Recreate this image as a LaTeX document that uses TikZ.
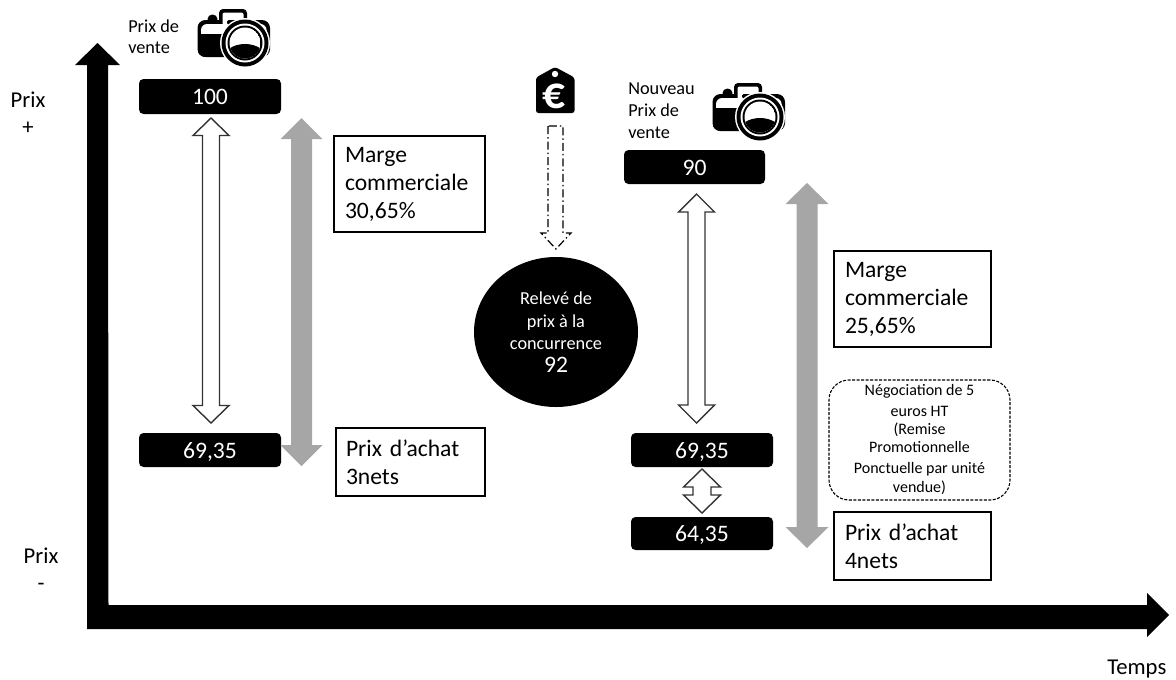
\documentclass[tikz,border=0pt]{standalone}
\usepackage{fontspec}
\setmainfont{Carlito}
\usetikzlibrary{calc,shapes.geometric}
\def\px{0.75pt}
\definecolor{grayarrow}{HTML}{A6A6A6}
\tikzset{
  bigfont/.style={font=\fontsize{17.7pt}{21pt}\selectfont},
  smallfont/.style={font=\fontsize{13.7pt}{16.5pt}\selectfont},
  axisfont/.style={font=\fontsize{17pt}{20pt}\selectfont},
  valuebox/.style={fill=black,text=white,rounded corners=4.5*\px,inner sep=0pt,minimum width=142*\px,
    bigfont,text height=12.7pt,text depth=0pt},
  notebox/.style={draw=black,line width=1.3*\px,fill=white,inner sep=0pt,align=left,bigfont},
  whitearrow/.style={draw=black!80,line width=1.4*\px,fill=white,line join=miter},
  grayblock/.style={fill=grayarrow},
  blackblock/.style={fill=black},
  dotarrow/.style={draw=black,line width=1.2*\px,dash pattern=on 8*\px off 3*\px on 1.5*\px off 3*\px},
  camera/.pic={
    \fill[black,rounded corners=8*\px] (0.5,12) rectangle (73,49);
    \fill[black,rounded corners=4*\px] (22,1) rectangle (50,20);
    \fill[black] (15.5,11) ellipse (5 and 4.5);
    \fill[white,rounded corners=6*\px] (4,16) rectangle (69.5,45.5);
    \fill[white,rounded corners=2*\px] (25.5,4.5) rectangle (46.5,18);
    \fill[black,rounded corners=1.5*\px] (30,12) rectangle (42,16.5);
    \begin{scope}
      \clip[rounded corners=8*\px] (0.5,12) rectangle (73,49);
      \fill[black] (0.5,25.5) rectangle (42,49);
    \end{scope}
    \fill[white] (48,35) circle (25);
    \fill[black] (48,35) circle (23.5);
    \fill[white] (48,35) circle (19.5);
    \fill[black] (48,35) circle (17.5);
    \begin{scope}
      \clip (48,35) circle (15.5);
      \fill[white] (48,35) circle (15.5);
      \fill[black] (48,50) ellipse (21 and 14);
    \end{scope}
  }
}
\newcommand\twoheaded[6]{%
  \path[#1] (#2) -- ($(#2)+(#5,#6)$) -- ($(#2)+(#4,#6)$) -- ($(#3)+(#4,-#6)$) -- ($(#3)+(#5,-#6)$) -- (#3)
    -- ($(#3)+(-#5,-#6)$) -- ($(#3)+(-#4,-#6)$) -- ($(#2)+(-#4,#6)$) -- ($(#2)+(-#5,#6)$) -- cycle;}
\begin{document}
\begin{tikzpicture}[x=0.75pt,y=-0.75pt]
\useasboundingbox (0,0) rectangle (1176,679);

% axes
\coordinate (ytip) at (97.5,43);
\coordinate (xtip) at (1169,615);
\coordinate (corner) at (87,629);
\path[blackblock] (ytip) -- ($(ytip)+(22.5,22)$) -- ($(ytip)+(10.5,22)$) -- ($(corner)+(21.5,-24)$)
  -- ($(xtip)+(-22,-10)$) -- ($(xtip)+(-22,-22)$) -- (xtip) -- ($(xtip)+(-22,22)$) -- ($(xtip)+(-22,14)$)
  -- (corner) -- ($(ytip)+(-10.5,22)$) -- ($(ytip)+(-22.5,22)$) -- cycle;

\node[axisfont,anchor=base,align=center] (pplus) at (28,107) {Prix};
\node[axisfont,anchor=base] (plussign) at (28,134) {+};
\node[axisfont,anchor=base] (pminus) at (41,563) {Prix};
\node[axisfont,anchor=base] (minussign) at (41,590) {-};
\node[axisfont,anchor=base west,inner sep=0pt] (temps) at (1107,674) {Temps};

% left group
\node[smallfont,anchor=base west,inner sep=0pt] (pv1) at (128,32) {Prix de};
\node[smallfont,anchor=base west,inner sep=0pt] (pv2) at (128,53.5) {vente};
\pic at (197,8) {camera};
\node[valuebox,minimum height=35*\px] (v100) at (210,96.5) {100};
\node[valuebox,minimum height=34*\px] (v69a) at (210,450) {69,35};
\coordinate (wa1t) at (211,118);
\coordinate (wa1b) at (211,423);
\twoheaded{whitearrow,draw}{wa1t}{wa1b}{8.5}{18}{17.5}
\coordinate (ga1t) at (301.5,118);
\coordinate (ga1b) at (301.5,466);
\twoheaded{grayblock}{ga1t}{ga1b}{10.5}{21}{21}
\node[notebox,minimum width=151*\px,minimum height=96*\px,text width=129*\px] (marge1) at (409.5,184)
  {Marge\\commerciale\\30,65\%};
\node[notebox,minimum width=149*\px,minimum height=68*\px,text width=129*\px] (achat1) at (410.5,462)
  {Prix d’achat\\3nets};

% centre
\path[fill=black,rounded corners=2.5*\px] (536,113) -- (536,77.5) -- (555,67) -- (574.5,77.5) -- (574.5,113) -- cycle;
\fill[white] (555,74) circle (3.2);
\node[text=white,font=\bfseries\fontsize{34pt}{35pt}\selectfont,inner sep=0pt] (euro) at (554,96) {€};
\coordinate (dat) at (556,126);
\coordinate (dab) at (556,249);
\path[dotarrow] (dat) ++(-8,0) -- ($(dab)+(-8,-16)$) -- ($(dab)+(-15,-16)$) -- (dab) -- ($(dab)+(15,-16)$) -- ($(dab)+(7,-16)$) -- ($(dat)+(7,0)$) -- cycle;
\node[ellipse,fill=black,text=white,inner sep=0pt,minimum width=164*\px,minimum height=150*\px,align=center,
  smallfont] (releve) at (556,332)
  {Relevé de\\[0.75pt]prix à la\\concurrence\\[1pt]{\fontsize{17.7pt}{21pt}\selectfont 92}};

% right group
\node[smallfont,anchor=base west,inner sep=0pt] (npv1) at (628,94) {Nouveau};
\node[smallfont,anchor=base west,inner sep=0pt] (npv2) at (628,116) {Prix de};
\node[smallfont,anchor=base west,inner sep=0pt] (npv3) at (628,138) {vente};
\pic at (712,82) {camera};
\node[valuebox,minimum height=34*\px,minimum width=141*\px] (v90) at (694.5,167) {90};
\node[valuebox,minimum height=34*\px] (v69b) at (702,450) {69,35};
\node[valuebox,minimum height=33*\px] (v64) at (702,533.5) {64,35};
\coordinate (wa2t) at (696.5,194);
\coordinate (wa2b) at (696.5,423);
\twoheaded{whitearrow,draw}{wa2t}{wa2b}{8.5}{18}{18}
\coordinate (wa3t) at (702,469);
\coordinate (wa3b) at (702,513);
\twoheaded{whitearrow,draw}{wa3t}{wa3b}{9}{18.5}{18}
\coordinate (ga2t) at (807,183);
\coordinate (ga2b) at (807,548);
\twoheaded{grayblock}{ga2t}{ga2b}{10.5}{21.5}{21}
\node[notebox,minimum width=157*\px,minimum height=96*\px,text width=135*\px] (marge2) at (912.5,299)
  {Marge\\commerciale\\25,65\%};
\node[draw=black,line width=1.1*\px,dash pattern=on 3*\px off 1.5*\px,fill=white,rounded corners=20*\px,inner sep=0pt,
  minimum width=181*\px,minimum height=120*\px,align=center,font=\fontsize{12pt}{13.5pt}\selectfont] (nego) at (919.5,440)
  {Négociation de 5\\[2.25pt]euros HT\\(Remise\\Promotionnelle\\[2.25pt]Ponctuelle par unité\\[0.75pt]vendue)};
\node[notebox,minimum width=157*\px,minimum height=68*\px,text width=135*\px] (achat2) at (912.5,546)
  {Prix d’achat\\4nets};
\end{tikzpicture}
\end{document}
